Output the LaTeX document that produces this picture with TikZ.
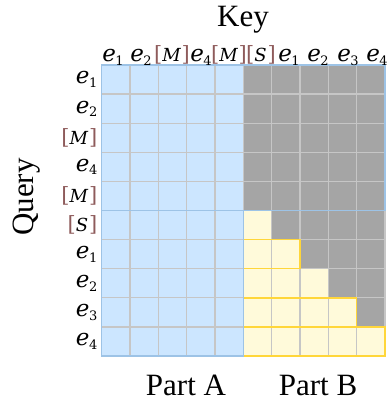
\documentclass[tikz,border=0pt]{standalone}
\usepackage{fontspec}
\setmainfont{Liberation Serif}
\newfontfamily\tokfont{DejaVu Serif}
\usetikzlibrary{calc}
\definecolor{cellblue}{HTML}{CCE6FF}
\definecolor{cellgrey}{HTML}{A5A5A5}
\definecolor{cellyellow}{HTML}{FFFADA}
\definecolor{gridline}{HTML}{C6C6C6}
\definecolor{edgeblue}{HTML}{9DC3E6}
\definecolor{edgegold}{HTML}{FFD63A}
\definecolor{brk}{HTML}{8E5B5B}
% token labels: italic e with a lowered index, bracketed special tokens
\newcommand{\ev}[1]{{\fontsize{23}{26}\selectfont\itshape e}\kern-0.5pt\raisebox{-3.5pt}{\fontsize{13}{15}\selectfont #1}}
\newcommand{\tok}[1]{\textcolor{brk}{[}{\fontsize{18}{22}\selectfont\itshape #1\kern1pt}\textcolor{brk}{]}}
\tikzset{
  title/.style={font=\fontsize{31}{36}\selectfont, inner sep=0pt},
  lbl/.style={font=\tokfont\fontsize{21}{26}\selectfont, inner sep=0pt},
  grid line/.style={draw=gridline, line width=1.3pt},
  blue edge/.style={draw=edgeblue, line width=1.4pt},
  gold edge/.style={draw=edgegold, line width=1.4pt},
}
\begin{document}
\begin{tikzpicture}[x=1pt, y=-1pt]
  \useasboundingbox (0,0) rectangle (389,402);
  % grid geometry: 10 x 10 cells
  \def\xo{101.5}\def\yo{65}\def\cw{28.35}\def\ch{29.1}
  % Part A (blue) and Part B (grey) backgrounds
  \fill[cellblue] (\xo,\yo) rectangle ({\xo+5*\cw},{\yo+10*\ch});
  \fill[cellgrey] ({\xo+5*\cw},\yo) rectangle ({\xo+10*\cw},{\yo+10*\ch});
  % causal (lower triangular) part of Part B
  \foreach \r in {5,...,9}{
    \fill[cellyellow] ({\xo+5*\cw},{\yo+\r*\ch}) rectangle ({\xo+(\r+1)*\cw},{\yo+(\r+1)*\ch});
  }
  % cell separators
  \foreach \i in {1,...,9}{
    \draw[grid line] ({\xo+\i*\cw},\yo) -- ({\xo+\i*\cw},{\yo+10*\ch});
    \draw[grid line] (\xo,{\yo+\i*\ch}) -- ({\xo+10*\cw},{\yo+\i*\ch});
  }
  \draw[grid line] ({\xo+5*\cw},{\yo+5*\ch}) rectangle ({\xo+10*\cw},{\yo+10*\ch});
  % outlines of the visible key spans
  \foreach \r in {6,8,9}{
    \draw[gold edge] ({\xo+5*\cw},{\yo+\r*\ch}) rectangle ({\xo+(\r+1)*\cw},{\yo+(\r+1)*\ch});
  }
  \draw[gold edge] ({\xo+5*\cw},{\yo+7*\ch}) -- ({\xo+5*\cw},{\yo+8*\ch});
  \draw[blue edge] (\xo,\yo) rectangle ({\xo+10*\cw},{\yo+5*\ch});
  \draw[blue edge] (\xo,{\yo+5*\ch}) rectangle ({\xo+5*\cw},{\yo+10*\ch});

  % axis titles
  \node[title, anchor=base] (key) at (243,26) {Key};
  \node[title, rotate=90] (query) at (27,197) {Query};
  \node[title, anchor=base] (parta) at (186,395) {Part A};
  \node[title, anchor=base] (partb) at (318,395) {Part B};

  % key tokens
  \node[lbl, anchor=base] (k1) at (113,61.5) {\ev{1}};
  \node[lbl, anchor=base] (k2) at (141,61.5) {\ev{2}};
  \node[lbl, anchor=base] (k3) at (172,61.5) {\tok{M}};
  \node[lbl, anchor=base] (k4) at (201,61.5) {\ev{4}};
  \node[lbl, anchor=base] (k5) at (229,61.5) {\tok{M}};
  \node[lbl, anchor=base] (k6) at (261,61.5) {\tok{S}};
  \node[lbl, anchor=base] (k7) at (289,61.5) {\ev{1}};
  \node[lbl, anchor=base] (k8) at (318,61.5) {\ev{2}};
  \node[lbl, anchor=base] (k9) at (348,61.5) {\ev{3}};
  \node[lbl, anchor=base] (k10) at (377,61.5) {\ev{4}};

  % query tokens
  \foreach \t [count=\i from 0] in {{\ev{1}},{\ev{2}},{\tok{M}},{\ev{4}},{\tok{M}},{\tok{S}},{\ev{1}},{\ev{2}},{\ev{3}},{\ev{4}}}{
    \node[lbl, anchor=east] (q\i) at (97.5,{\yo+(\i+0.5)*\ch}) {\t};
  }
\end{tikzpicture}
\end{document}
